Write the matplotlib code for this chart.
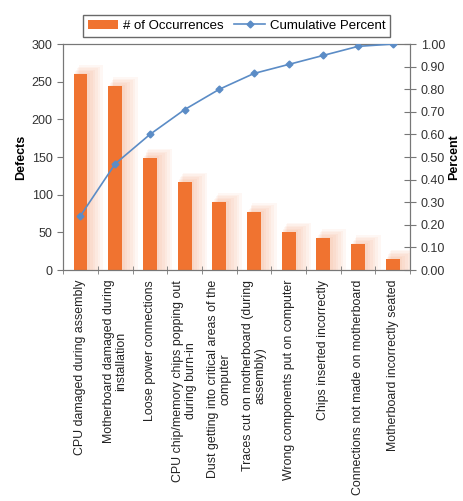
import matplotlib.pyplot as plt
import numpy as np

plt.rcParams['font.family'] = ['Liberation Sans', 'DejaVu Sans']

causes = ['CPU damaged during assembly',
          'Motherboard damaged during\ninstallation',
          'Loose power connections',
          'CPU chip/memory chips popping out\nduring burn-in',
          'Dust getting into critical areas of the\ncomputer',
          'Traces cut on motherboard (during\nassembly)',
          'Wrong components put on computer',
          'Chips inserted incorrectly',
          'Connections not made on motherboard',
          'Motherboard incorrectly seated']
defects = [260, 244, 149, 117, 90, 77, 51, 42, 34, 15]
cum_pct = [0.24, 0.47, 0.60, 0.71, 0.80, 0.87, 0.91, 0.95, 0.99, 1.00]

bar_col = '#f07330'
line_col = '#5b8cc6'
spine_col = '#777777'

fig = plt.figure(figsize=(4.64, 5.01), dpi=100)
ax = fig.add_axes([0.136, 0.461, 0.748, 0.451])
x = np.arange(len(causes))

# soft glow to the right of each bar
for k in range(1, 7):
    ax.bar(x + 0.05 * k, np.array(defects) + 2 * k, width=0.4 + 0.05 * k,
           color=bar_col, alpha=0.05, linewidth=0, zorder=1)
bars = ax.bar(x, defects, width=0.4, color=bar_col, zorder=2,
              label='# of Occurrences')

ax.set_xlim(-0.5, len(causes) - 0.5)
ax.set_ylim(0, 300)
ax.set_yticks(range(0, 301, 50))
ax.set_xticks(x)
ax.set_xticklabels(causes, rotation=90, fontsize=8.9, linespacing=1.05,
                   multialignment='center', color='#222222')
ax.set_xticks(np.arange(-0.5, len(causes)), minor=True)
ax.tick_params(axis='x', which='major', length=0, pad=7)
ax.tick_params(axis='x', which='minor', length=6, direction='inout',
               color=spine_col)
ax.tick_params(axis='y', labelsize=9, length=4, color=spine_col,
               labelcolor='#333333')
ax.set_ylabel('Defects', fontsize=9, fontweight='bold', labelpad=3)
for s in ax.spines.values():
    s.set_color(spine_col)

ax2 = ax.twinx()
line, = ax2.plot(x, cum_pct, color=line_col, marker='D', markersize=3.5,
                 linewidth=1.2, label='Cumulative Percent', zorder=3)
ax2.set_ylim(0, 1)
ax2.set_yticks(np.arange(0, 1.01, 0.1))
ax2.set_yticklabels(['%.2f' % v for v in np.arange(0, 1.01, 0.1)])
ax2.tick_params(axis='y', labelsize=9, length=8, direction='inout',
                color=spine_col, labelcolor='#333333')
for s in ax2.spines.values():
    s.set_color(spine_col)
fig.text(0.978, 0.687, 'Percent', rotation=90, fontsize=9,
         fontweight='bold', ha='center', va='center')

fig.legend([bars, line], ['# of Occurrences', 'Cumulative Percent'],
           loc='upper center', bbox_to_anchor=(0.51, 0.983), ncol=2,
           fontsize=9.5, frameon=True, fancybox=False, edgecolor='#444444',
           handlelength=2.3, handletextpad=0.4, columnspacing=0.8,
           borderpad=0.35)

fig.savefig('out.png', dpi=100)
